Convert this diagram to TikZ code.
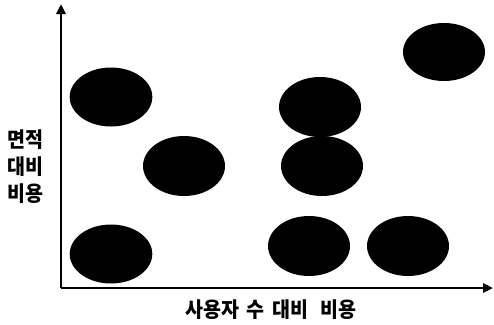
\documentclass[tikz,border=0pt]{standalone}
\usepackage{fontspec}
\newfontfamily\kr{Noto Sans CJK KR}
\usetikzlibrary{arrows.meta}
\begin{document}
\begin{tikzpicture}[x=1pt,y=-1pt,
  axis/.style={line width=2.6pt,-{Triangle[length=10pt,width=9pt]}},
  lbl/.style={font=\kr\bfseries\fontsize{19.5}{25}\selectfont,inner sep=0pt,align=center,yscale=1.08}]
\useasboundingbox (0,0) rectangle (494,324);
\coordinate (o) at (61,288);
\coordinate (ytip) at (61,4);
\coordinate (xtip) at (493,288);
\draw[axis] (o) -- (ytip);
\draw[axis] (o) -- (xtip);
\fill (111,97) ellipse [x radius=41.3, y radius=29.5];
\fill (184,166) ellipse [x radius=41, y radius=30];
\fill (111,254) ellipse [x radius=41.3, y radius=29.5];
\fill (320,107) ellipse [x radius=41, y radius=30];
\fill (322,166) ellipse [x radius=41, y radius=30];
\fill (309,246) ellipse [x radius=41, y radius=30];
\fill (408,246) ellipse [x radius=41, y radius=30];
\fill (444,52) ellipse [x radius=41, y radius=29];
\node[lbl] (ylab) at (25,167) {면적\\대비\\비용};
\node[lbl] (xlab) at (271,310) {사용자\hspace{7pt}수\hspace{9pt}대비\hspace{12pt}비용};
\end{tikzpicture}
\end{document}
